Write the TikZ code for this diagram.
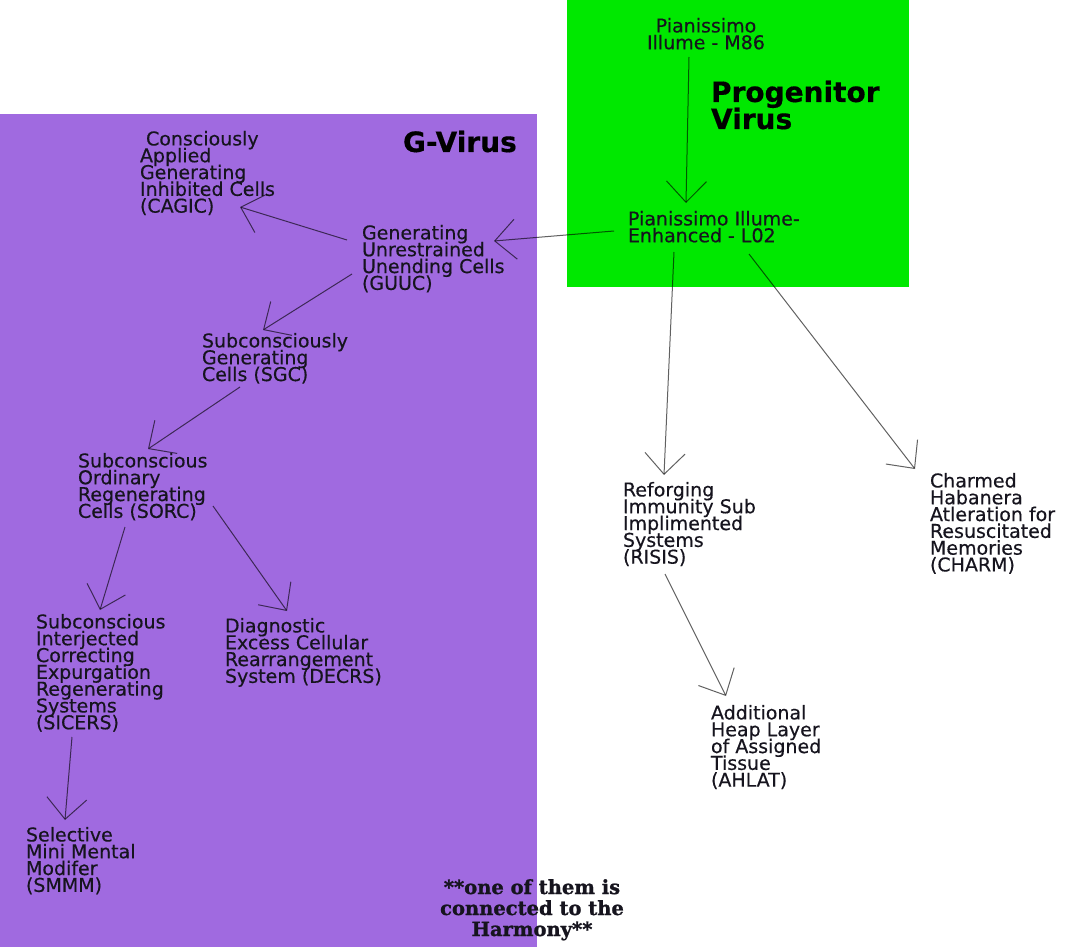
\documentclass[tikz,border=0pt]{standalone}
\usepackage{fontspec}
\setmainfont{DejaVu Sans}[FakeBold=0.4]
\newfontfamily\slabfont{DejaVu Serif}[BoldFeatures={FakeBold=1.2}]
\usetikzlibrary{arrows.meta}
\definecolor{gvir}{RGB}{160,106,224}
\definecolor{pvir}{RGB}{0,232,0}
\definecolor{ink}{RGB}{22,20,30}
\tikzset{
  lbl/.style={anchor=north west, inner sep=0pt, outer sep=0pt, align=left, text=ink,
    font=\fontsize{19}{16.8}\selectfont},
  conn/.style={draw=black, draw opacity=0.62, line width=1pt,
    -{Straight Barb[length=21pt,width=40pt]}},
  bigtitle/.style={inner sep=0pt, outer sep=0pt, align=left, text=black,
    font=\bfseries\fontsize{28}{27}\selectfont},
  notetext/.style={inner sep=0pt, outer sep=0pt, align=center, text=ink,
    font=\slabfont\bfseries\fontsize{19.5}{21}\selectfont}
}
\begin{document}
\setlength{\lineskiplimit}{-50pt}%
\begin{tikzpicture}[x=1pt,y=-1pt]
\useasboundingbox (0,0) rectangle (1079,947);
\fill[white] (0,0) rectangle (1079,947);
% regions
\fill[gvir] (0,114) rectangle (537,947);
\fill[pvir] (567,0) rectangle (909,287);
% titles
\node[bigtitle, anchor=base west] (gtitle) at (403,152) {G-Virus};
\node[bigtitle, anchor=base west] (ptitle) at (711,129) {Progenitor\\Virus};
% nodes
\node[lbl, anchor=north, align=center] (m86) at (706,18) {Pianissimo\\Illume - M86};
\node[lbl] (l02) at (628,211) {Pianissimo Illume-\\Enhanced - L02};
\node[lbl] (cagic) at (140,131) {\ Consciously\\Applied\\Generating\\Inhibited Cells\\(CAGIC)};
\node[lbl] (guuc) at (362,225) {Generating\\Unrestrained\\Unending Cells\\(GUUC)};
\node[lbl] (sgc) at (202,333) {Subconsciously\\Generating\\Cells (SGC)};
\node[lbl] (sorc) at (78,453) {Subconscious\\Ordinary\\Regenerating\\Cells (SORC)};
\node[lbl] (sicers) at (36,614) {Subconscious\\Interjected\\Correcting\\Expurgation\\Regenerating\\Systems\\(SICERS)};
\node[lbl] (decrs) at (225,618) {Diagnostic\\Excess Cellular\\Rearrangement\\System (DECRS)};
\node[lbl] (smmm) at (26,827) {Selective\\Mini Mental\\Modifer\\(SMMM)};
\node[lbl] (risis) at (623,482) {Reforging\\Immunity Sub\\Implimented\\Systems\\(RISIS)};
\node[lbl] (charm) at (930,473) {Charmed\\Habanera\\Atleration for\\Resuscitated\\Memories\\(CHARM)};
\node[lbl] (ahlat) at (711,705) {Additional\\Heap Layer\\of Assigned\\Tissue\\(AHLAT)};
% note
\node[notetext, anchor=base] (note) at (532,936) {**one of them is\\connected to the\\Harmony**};
% connectors
\draw[conn] ([xshift=-17pt,yshift=-39pt]m86.north) -- ([xshift=58pt,yshift=8pt]l02.north west);
\draw[conn] ([xshift=-14pt,yshift=-20pt]l02.north west) -- ([xshift=132pt,yshift=-16pt]guuc.north west);
\draw[conn] ([xshift=-15pt,yshift=-15pt]guuc.north west) -- ([xshift=100pt,yshift=-76pt]cagic.north west);
\draw[conn] ([xshift=-10pt,yshift=-49pt]guuc.north west) -- ([xshift=61pt,yshift=3pt]sgc.north west);
\draw[conn] ([xshift=38pt,yshift=-54pt]sgc.north west) -- ([xshift=70pt,yshift=4pt]sorc.north west);
\draw[conn] ([xshift=47pt,yshift=-74pt]sorc.north west) -- ([xshift=64pt,yshift=4pt]sicers.north west);
\draw[conn] ([xshift=135pt,yshift=-53pt]sorc.north west) -- ([xshift=62pt,yshift=7pt]decrs.north west);
\draw[conn] ([xshift=36pt,yshift=-123pt]sicers.north west) -- ([xshift=39pt,yshift=7pt]smmm.north west);
\draw[conn] ([xshift=46pt,yshift=-41pt]l02.north west) -- ([xshift=41pt,yshift=7pt]risis.north west);
\draw[conn] ([xshift=121pt,yshift=-43pt]l02.north west) -- ([xshift=-15pt,yshift=4pt]charm.north west);
\draw[conn] ([xshift=42pt,yshift=-92pt]risis.north west) -- ([xshift=15pt,yshift=9pt]ahlat.north west);
\end{tikzpicture}
\end{document}
